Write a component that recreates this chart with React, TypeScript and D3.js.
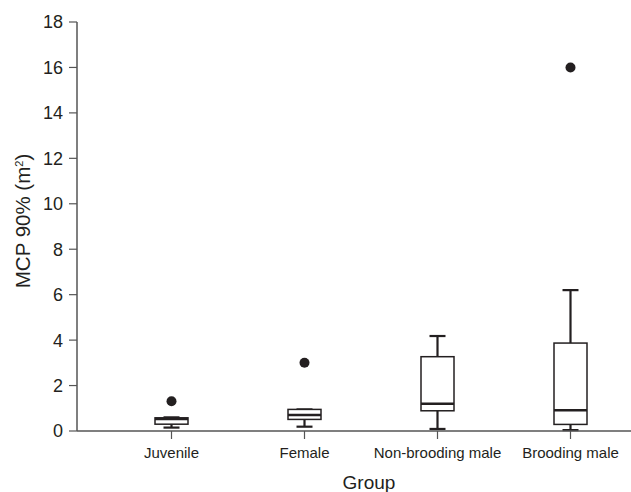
import React from "react";
import * as d3 from "d3";

const categories = ["Juvenile", "Female", "Non-brooding male", "Brooding male"];
const whiskerLow = [0.15, 0.19, 0.09, 0.04];
const q1 = [0.3, 0.51, 0.89, 0.29];
const median = [0.53, 0.7, 1.2, 0.91];
const q3 = [0.58, 0.95, 3.27, 3.87];
const whiskerHigh = [0.6, 0.95, 4.18, 6.2];
const outliers: [number, number][] = [[0, 1.31], [1, 3.0], [3, 16.0]];
const yTicks = [0, 2, 4, 6, 8, 10, 12, 14, 16, 18];

const W = 631, H = 492;
const axisX = 77, axisY = 431, topY = 22;

export default function App() {
  const y = d3.scaleLinear().domain([0, 18]).range([axisY, topY]);
  const x = d3.scaleBand<string>().domain(categories).range([105, 637]);
  const bw = 33;
  const cap = 16;
  const font = "Liberation Sans, Arial, sans-serif";
  const col = "#231f20";
  return (
    <svg width={W} height={H} style={{ position: "absolute", left: 0, top: 0 }}>
      <rect width={W} height={H} fill="#fff" />
      {categories.map((c, i) => {
        const cx = x(c)! + x.bandwidth() / 2;
        return (
          <g key={c}>
            <line x1={cx} x2={cx} y1={y(q3[i])} y2={y(whiskerHigh[i])} stroke={col} strokeWidth={2.2} />
            <line x1={cx - cap / 2} x2={cx + cap / 2} y1={y(whiskerHigh[i])} y2={y(whiskerHigh[i])} stroke={col} strokeWidth={2.2} />
            <line x1={cx} x2={cx} y1={y(q1[i])} y2={y(whiskerLow[i])} stroke={col} strokeWidth={2.2} />
            <line x1={cx - cap / 2} x2={cx + cap / 2} y1={y(whiskerLow[i])} y2={y(whiskerLow[i])} stroke={col} strokeWidth={2.2} />
            <rect x={cx - bw / 2} y={y(q3[i])} width={bw} height={y(q1[i]) - y(q3[i])} fill="#fff" stroke={col} strokeWidth={1.5} />
            <line x1={cx - bw / 2} x2={cx + bw / 2} y1={y(median[i])} y2={y(median[i])} stroke={col} strokeWidth={2.5} />
            <line x1={cx} x2={cx} y1={axisY} y2={axisY + 8} stroke="#555" strokeWidth={1.2} />
            <text x={cx} y={458} textAnchor="middle" fontFamily={font} fontSize={15} fill={col}>{c}</text>
          </g>
        );
      })}
      {outliers.map(([i, v], k) => (
        <circle key={k} cx={x(categories[i])! + x.bandwidth() / 2} cy={y(v)} r={5} fill={col} />
      ))}
      <line x1={axisX} x2={631} y1={axisY} y2={axisY} stroke="#555" strokeWidth={1.5} />
      <line x1={axisX} x2={axisX} y1={topY} y2={axisY} stroke="#555" strokeWidth={1.5} />
      {yTicks.map((t) => (
        <g key={t}>
          <line x1={axisX - 8} x2={axisX} y1={y(t)} y2={y(t)} stroke="#555" strokeWidth={1.2} />
          <text x={axisX - 14} y={y(t)} dy="0.36em" textAnchor="end" fontFamily={font} fontSize={18} fill={col}>{t}</text>
        </g>
      ))}
      <text x={369} y={489} textAnchor="middle" fontFamily={font} fontSize={19} fill={col}>Group</text>
      <text transform={`translate(30,221) rotate(-90)`} textAnchor="middle" fontFamily={font} fontSize={20.5} fill={col}>
        MCP 90% (m<tspan dy={-7} fontSize={11}>2</tspan><tspan dy={7}>)</tspan>
      </text>
    </svg>
  );
}
